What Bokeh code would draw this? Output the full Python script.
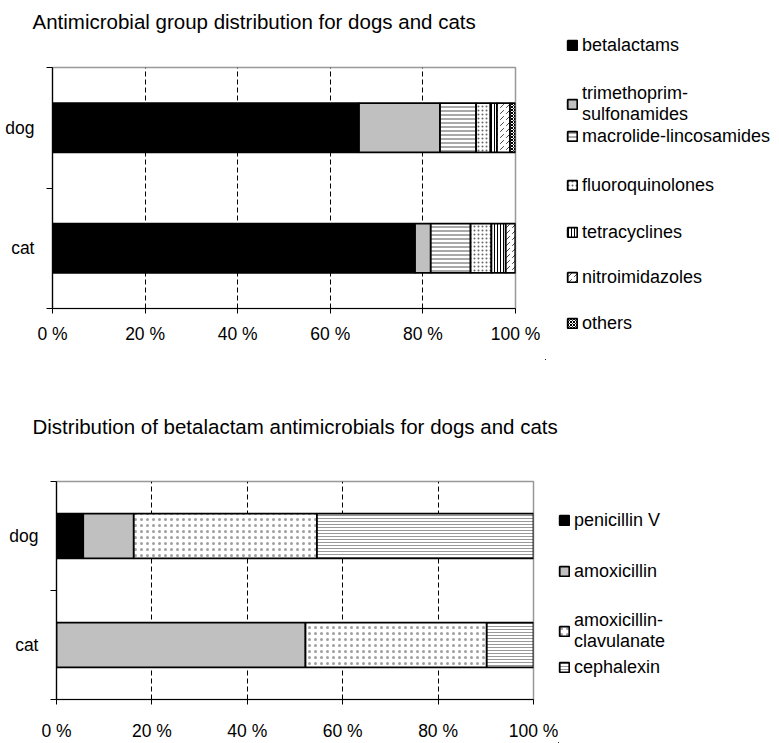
from bokeh.plotting import figure
from bokeh.models import Legend, LegendItem, FixedTicker, Range1d, ColumnDataSource, Title
from bokeh.layouts import column, row
from bokeh.embed import file_html
from bokeh.resources import INLINE

# ---------------- data ----------------
species = ["dog", "cat"]
species_pos = [1.5, 0.5]

groups = ["betalactams", "trimethoprim-\nsulfonamides", "macrolide-lincosamides",
          "fluoroquinolones", "tetracyclines", "nitroimidazoles", "others"]
dog_groups = [66.2, 17.5, 7.8, 3.1, 1.4, 2.8, 1.2]
cat_groups = [78.3, 3.4, 8.6, 4.5, 3.1, 2.1, 0.0]

betas = ["penicillin V", "amoxicillin", "amoxicillin-\nclavulanate", "cephalexin"]
dog_beta = [5.6, 10.6, 38.4, 45.4]
cat_beta = [0.0, 52.2, 38.0, 9.8]

x_ticks = [0, 20, 40, 60, 80, 100]
x_tick_labels = ["0 %", "20 %", "40 %", "60 %", "80 %", "100 %"]

title1 = "Antimicrobial group distribution for dogs and cats"
title2 = "Distribution of betalactam antimicrobials for dogs and cats"

# ---------------- styles ----------------
FONT = "Liberation Sans"
TICK_FS = "17.5px"
LEG_FS = "18px"
TITLE_FS = "20.5px"

group_styles = [
    dict(fill_color="black", hatch_pattern=None, hatch_color="black", hatch_scale=6, hatch_weight=1),
    dict(fill_color="#C0C0C0", hatch_pattern=None, hatch_color="black", hatch_scale=6, hatch_weight=1),
    dict(fill_color="white", hatch_pattern="-", hatch_color="#7a7a7a", hatch_scale=4, hatch_weight=1.3),
    dict(fill_color="white", hatch_pattern=".", hatch_color="#666666", hatch_scale=4, hatch_weight=0.6),
    dict(fill_color="white", hatch_pattern="|", hatch_color="black", hatch_scale=3, hatch_weight=1),
    dict(fill_color="white", hatch_pattern=",", hatch_color="#444444", hatch_scale=6, hatch_weight=1),
    dict(fill_color="white", hatch_pattern="x", hatch_color="black", hatch_scale=3, hatch_weight=1),
]
beta_styles = [
    dict(fill_color="black", hatch_pattern=None, hatch_color="black", hatch_scale=6, hatch_weight=1),
    dict(fill_color="#C0C0C0", hatch_pattern=None, hatch_color="black", hatch_scale=6, hatch_weight=1),
    dict(fill_color="white", hatch_pattern=".", hatch_color="#a0a0a0", hatch_scale=6, hatch_weight=0.4),
    dict(fill_color="white", hatch_pattern="-", hatch_color="#999999", hatch_scale=3, hatch_weight=1),
]


def stack(p, names, dog_vals, cat_vals, styles):
    keys = ["s%d" % i for i in range(len(names))]
    data = {"y": species_pos}
    for i, k in enumerate(keys):
        data[k] = [dog_vals[i], cat_vals[i]]
    src = ColumnDataSource(data)
    return p.hbar_stack(keys, y="y", height=0.41, source=src,
                        fill_color=[s["fill_color"] for s in styles],
                        hatch_pattern=[s["hatch_pattern"] for s in styles],
                        hatch_color=[s["hatch_color"] for s in styles],
                        hatch_scale=[s["hatch_scale"] for s in styles],
                        hatch_weight=[s["hatch_weight"] for s in styles],
                        line_color="black", line_width=1.8)


def make_chart(title, names, dog_vals, cat_vals, styles, fig_w, fig_h,
               left, top, frame_w, frame_h, title_offset, spacer, tick_standoff):
    p = figure(width=fig_w, height=fig_h,
               min_border_left=left, min_border_top=top,
               min_border_bottom=fig_h - top - frame_h,
               min_border_right=fig_w - left - frame_w,
               x_range=Range1d(0, 100), y_range=Range1d(0, 2),
               output_backend="svg", toolbar_location=None,
               background_fill_color="white", border_fill_color="white",
               outline_line_color="#999999", outline_line_width=1.5)
    p.add_layout(Title(text=" ", text_font_size="1px", standoff=spacer), "above")
    p.title.text = title
    p.title.text_font = FONT
    p.title.text_font_style = "normal"
    p.title.text_font_size = TITLE_FS
    p.title.text_color = "black"
    p.title.offset = title_offset
    p.title.standoff = 0
    p.title.vertical_align = "bottom"

    stack(p, names, dog_vals, cat_vals, styles)

    xa = p.xaxis[0]
    xa.ticker = FixedTicker(ticks=x_ticks)
    xa.major_label_overrides = {t: l for t, l in zip(x_ticks, x_tick_labels)}
    xa.major_tick_out = 5
    xa.major_tick_in = 0
    xa.major_label_standoff = tick_standoff
    ya = p.yaxis[0]
    ya.ticker = FixedTicker(ticks=species_pos, minor_ticks=[0, 1, 2])
    ya.major_label_overrides = {t: l for t, l in zip(species_pos, species)}
    ya.major_tick_out = 0
    ya.major_tick_in = 0
    ya.minor_tick_out = 6
    ya.minor_tick_in = 0
    ya.major_label_standoff = 12
    for ax in (xa, ya):
        ax.axis_line_color = "black"
        ax.axis_line_width = 1.2
        ax.major_tick_line_color = "black"
        ax.minor_tick_line_color = "black"
        ax.major_label_text_font = FONT
        ax.major_label_text_font_size = TICK_FS
        ax.major_label_text_color = "black"

    p.ygrid.visible = False
    p.xgrid.ticker = FixedTicker(ticks=x_ticks[1:-1])
    p.xgrid.grid_line_color = "black"
    p.xgrid.grid_line_dash = "5 3"
    p.xgrid.grid_line_width = 1
    return p


def make_legend(names, dog_vals, cat_vals, styles, fig_w, fig_h, gx, centers):
    # a borderless panel that only hosts the legend entries; its own copies of
    # the bars lie outside its ranges so only the legend swatches show
    q = figure(width=fig_w, height=fig_h, min_border=0,
               min_border_left=0, min_border_right=0, min_border_top=0, min_border_bottom=0,
               x_range=Range1d(300, 400), y_range=Range1d(10, 11),
               x_axis_location=None, y_axis_location=None,
               output_backend="svg", toolbar_location=None,
               background_fill_color="white", border_fill_color="white",
               outline_line_color=None)
    q.grid.visible = False
    rs = stack(q, names, dog_vals, cat_vals, styles)
    for r, name, c in zip(rs, names, centers):
        h = 22 * (name.count("\n") + 1)
        lg = Legend(items=[LegendItem(label=name, renderers=[r])],
                    location=(gx, fig_h - c - h / 2),
                    border_line_color=None, background_fill_alpha=0,
                    padding=0, margin=0, spacing=0,
                    glyph_width=12, glyph_height=12, label_height=22,
                    label_standoff=4,
                    label_text_font=FONT, label_text_font_size=LEG_FS,
                    label_text_color="black")
        q.add_layout(lg)
    return q


H1, H2 = 360, 383
p1 = make_chart(title1, groups, dog_groups, cat_groups, group_styles,
                fig_w=545, fig_h=H1, left=52, top=67, frame_w=463, frame_h=241,
                title_offset=-20, spacer=32, tick_standoff=10)
l1 = make_legend(groups, dog_groups, cat_groups, group_styles,
                 fig_w=779 - 545, fig_h=H1, gx=21,
                 centers=[45, 103, 136, 185, 232, 277, 323])

p2 = make_chart(title2, betas, dog_beta, cat_beta, beta_styles,
                fig_w=558, fig_h=H2, left=56, top=121, frame_w=477, frame_h=227,
                title_offset=-24, spacer=41, tick_standoff=16)
l2 = make_legend(betas, dog_beta, cat_beta, beta_styles,
                 fig_w=779 - 558, fig_h=H2, gx=0,
                 centers=[520 - 360, 571 - 360, 630 - 360, 667 - 360])

layout = column(row(column(p1), column(l1), spacing=0),
                row(column(p2), column(l2), spacing=0), spacing=0)
open("out.html", "w").write(file_html(layout, INLINE))
